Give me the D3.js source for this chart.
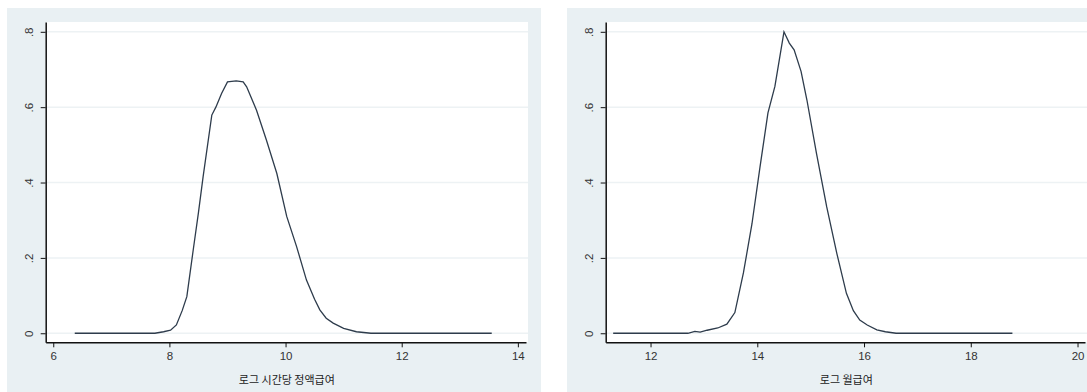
<!DOCTYPE html>
<meta charset="utf-8">
<head>
    <script src="https://d3js.org/d3.v7.min.js"></script>
    <style>
    body { margin: 0; background: white; }
    svg { display: block; }
    .tick text { font-family: "Liberation Sans", Arial, sans-serif; font-size: 11.5px; fill: #333; }
    .title { font-family: "Noto Sans CJK KR", sans-serif; font-size: 11px; fill: #222; }
    </style>
</head>
<body>
    <svg id="svgid" width="1087" height="392"></svg>
    <script>
        // left: log hourly regular wage density
        var hourlyX = [6.37, 7.75, 7.9, 8.02, 8.12, 8.22, 8.3, 8.41, 8.5, 8.58, 8.73, 8.8, 8.9, 9.0, 9.15, 9.27, 9.33, 9.5, 9.67, 9.85, 10.02, 10.19, 10.36, 10.5, 10.59, 10.7, 10.82, 11.0, 11.22, 11.47, 13.55];
        var hourlyY = [0, 0, 0.004, 0.008, 0.022, 0.06, 0.097, 0.221, 0.32, 0.415, 0.579, 0.6, 0.637, 0.667, 0.670, 0.667, 0.654, 0.592, 0.513, 0.424, 0.31, 0.23, 0.141, 0.09, 0.062, 0.04, 0.027, 0.013, 0.004, 0, 0];
        // right: log monthly wage density
        var monthlyX = [11.3, 12.7, 12.83, 12.93, 13.06, 13.26, 13.43, 13.58, 13.74, 13.9, 14.05, 14.2, 14.33, 14.5, 14.6, 14.69, 14.82, 14.93, 15.11, 15.3, 15.49, 15.67, 15.8, 15.92, 16.06, 16.24, 16.4, 16.6, 18.78];
        var monthlyY = [0, 0, 0.005, 0.003, 0.008, 0.014, 0.024, 0.055, 0.16, 0.29, 0.44, 0.585, 0.655, 0.80, 0.77, 0.752, 0.695, 0.619, 0.477, 0.336, 0.212, 0.106, 0.06, 0.035, 0.022, 0.009, 0.004, 0, 0];

        var yTicks = [0, 0.2, 0.4, 0.6, 0.8];
        var hourlyTicks = [6, 8, 10, 12, 14];
        var monthlyTicks = [12, 14, 16, 18, 20];

        var svg = d3.select("#svgid");
        var bg = "#e9f0f3";

        function panel(cfg) {
            var g = svg.append("g");

            // outer grey region
            g.append("rect")
                .attr("x", cfg.left).attr("y", 8)
                .attr("width", cfg.right - cfg.left).attr("height", 392 - 8)
                .attr("fill", bg);

            var x = d3.scaleLinear().domain(cfg.xdom).range([cfg.x0, cfg.x1]);
            var y = d3.scaleLinear().domain([-0.024, 0.826]).range([342.3, 22]);

            // plot region
            g.append("rect")
                .attr("x", cfg.x0).attr("y", 22)
                .attr("width", cfg.plotRight - cfg.x0).attr("height", 342.3 - 22)
                .attr("fill", "white");

            // gridlines
            g.selectAll(".grid").data(yTicks).enter().append("line")
                .attr("x1", cfg.x0).attr("x2", cfg.plotRight)
                .attr("y1", d => y(d)).attr("y2", d => y(d))
                .attr("stroke", "#edf2f4").attr("stroke-width", 1.5);

            // density curve
            var pts = d3.zip(cfg.xs, cfg.ys);
            g.append("path")
                .datum(pts)
                .attr("d", d3.line().x(d => x(d[0])).y(d => y(d[1])))
                .attr("fill", "none")
                .attr("stroke", "#2e3c4c")
                .attr("stroke-width", 1.3);

            var fmt = d => d === 0 ? "0" : d3.format(".1f")(d).replace(/^0/, "");

            var ya = g.append("g")
                .attr("transform", "translate(" + cfg.x0 + ",0)")
                .call(d3.axisLeft(y).tickValues(yTicks).tickFormat(fmt).tickSize(5).tickSizeOuter(0));
            ya.select(".domain").attr("stroke", "#111").attr("stroke-width", 1.5);
            ya.selectAll(".tick line").attr("stroke", "#111");
            ya.selectAll(".tick text")
                .attr("x", null).attr("dy", null)
                .attr("text-anchor", "middle")
                .attr("dominant-baseline", "central")
                .attr("transform", "translate(-17,0) rotate(-90)");

            var xa = g.append("g")
                .attr("transform", "translate(0,342.3)")
                .call(d3.axisBottom(x).tickValues(cfg.ticks).tickSize(5).tickSizeOuter(0));
            xa.select(".domain").attr("stroke", "#111").attr("stroke-width", 1.5);
            xa.selectAll(".tick line").attr("stroke", "#111");
            xa.selectAll(".tick text").attr("y", 10);

            g.append("text")
                .attr("class", "title")
                .attr("x", (cfg.x0 + cfg.plotRight) / 2)
                .attr("y", 384)
                .attr("text-anchor", "middle")
                .text(cfg.title);
        }

        panel({left: 7, right: 541, x0: 45.7, x1: 526, plotRight: 528,
               xdom: [5.87, 14.14], xs: hourlyX, ys: hourlyY, ticks: hourlyTicks,
               title: "로그 시간당 정액급여"});
        panel({left: 567, right: 1087, x0: 605.7, x1: 1085, plotRight: 1087,
               xdom: [11.16, 20.14], xs: monthlyX, ys: monthlyY, ticks: monthlyTicks,
               title: "로그 월급여"});
    </script>
</body>
